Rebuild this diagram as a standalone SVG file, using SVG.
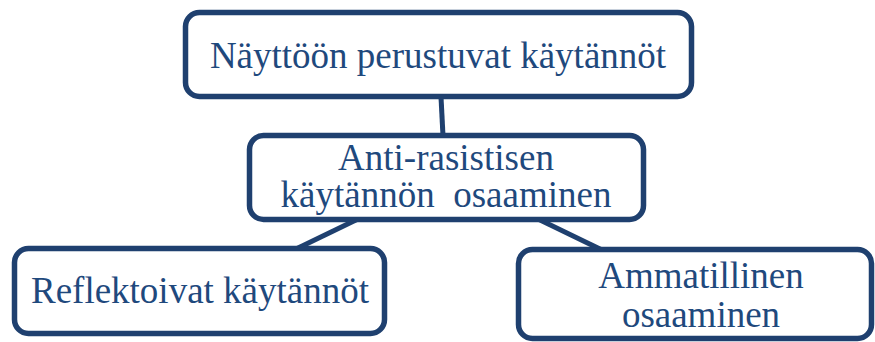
<svg xmlns="http://www.w3.org/2000/svg" width="875" height="342" viewBox="0 0 875 342">
<style>
.box{fill:#ffffff;stroke:#1f406f;stroke-width:5.5}
.conn{stroke:#1f406f;stroke-width:5;fill:none}
text{font-family:"Liberation Serif","Times New Roman",serif;font-size:37px;fill:#1f497d;text-anchor:middle;white-space:pre}
</style>
<rect width="875" height="342" fill="#ffffff"/>
<g id="connectors">
<line class="conn" x1="441" y1="97" x2="443" y2="136"/>
<line class="conn" x1="358" y1="219" x2="296" y2="249"/>
<line class="conn" x1="538" y1="219" x2="602" y2="250"/>
</g>
<g id="node-top">
<rect class="box" x="185.5" y="12.5" width="506" height="84" rx="14"/>
<text x="438" y="68">Näyttöön perustuvat käytännöt</text>
</g>
<g id="node-middle">
<rect class="box" x="249.5" y="135.5" width="394" height="84" rx="14"/>
<text x="446" y="170">Anti-rasistisen</text>
<text x="446" y="207" xml:space="preserve">käytännön  osaaminen</text>
</g>
<g id="node-left">
<rect class="box" x="14.5" y="248.5" width="370" height="85" rx="14"/>
<text x="200" y="303">Reflektoivat käytännöt</text>
</g>
<g id="node-right">
<rect class="box" x="518.5" y="249.5" width="353" height="89" rx="14"/>
<text x="701" y="288">Ammatillinen</text>
<text x="701" y="327">osaaminen</text>
</g>
</svg>
